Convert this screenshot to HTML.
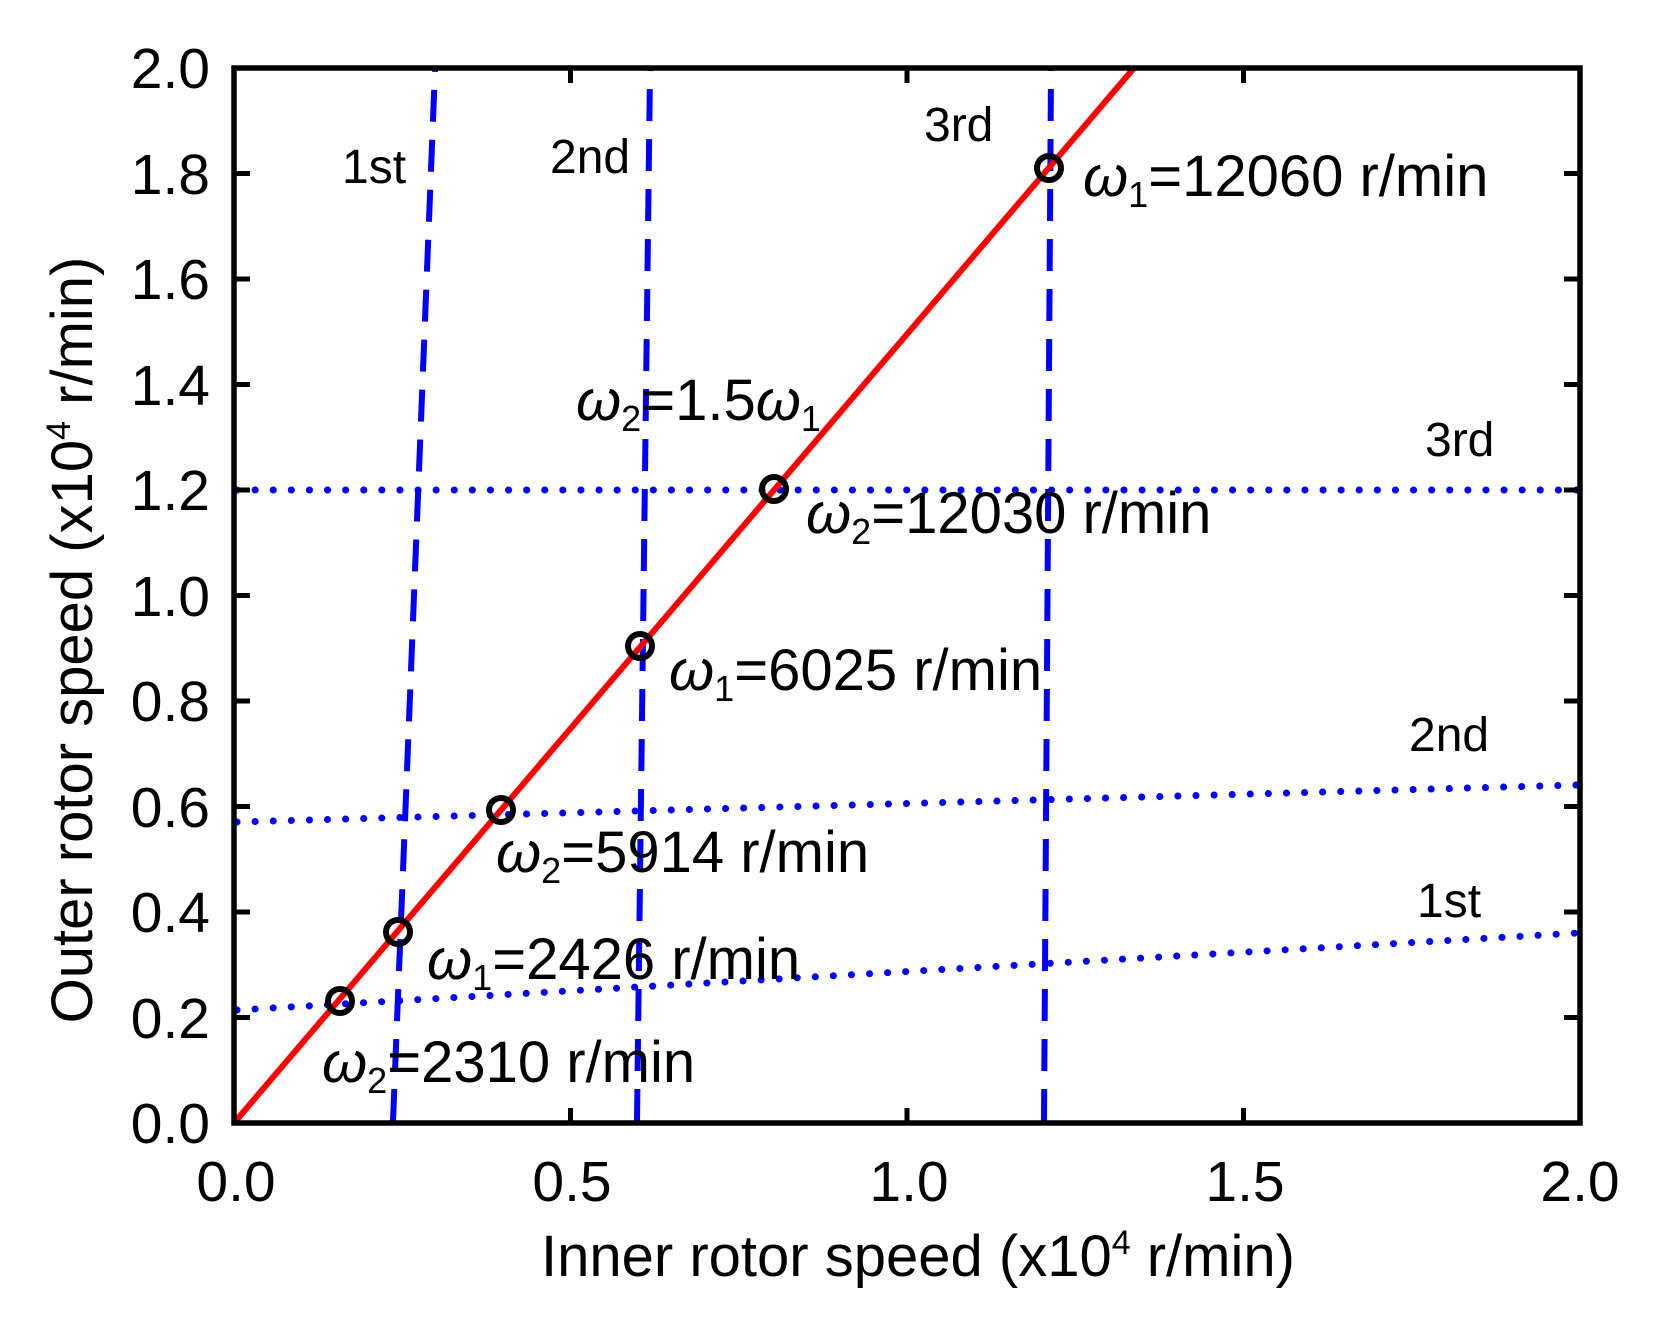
<!DOCTYPE html>
<html><head><meta charset="utf-8"><style>html,body{margin:0;padding:0;background:#fff}svg{display:block}</style></head>
<body>
<svg width="1665" height="1320" viewBox="0 0 1665 1320" xmlns="http://www.w3.org/2000/svg" font-family="Liberation Sans, Arial, sans-serif">
<rect width="1665" height="1320" fill="#fff"/>
<g stroke="#0000ff" stroke-width="7" stroke-linecap="round" stroke-dasharray="0.1 18" fill="none">
<line x1="237" y1="490" x2="1578" y2="490"/>
<line x1="237" y1="822" x2="1578" y2="785"/>
<line x1="237" y1="1010" x2="1578" y2="933"/>
</g>
<g stroke="#0000ff" stroke-width="6" stroke-dasharray="32 18" fill="none">
<line x1="393" y1="1121" x2="435" y2="70"/>
<line x1="637" y1="1121" x2="650" y2="70"/>
<line x1="1044" y1="1121" x2="1051" y2="70"/>
</g>
<line x1="234" y1="1123" x2="1134" y2="68" stroke="#ff0000" stroke-width="6"/>
<g stroke="#000" stroke-width="6" fill="none">
<circle cx="340" cy="1001" r="12"/>
<circle cx="398" cy="932" r="12"/>
<circle cx="501" cy="810" r="12"/>
<circle cx="640" cy="646" r="12"/>
<circle cx="774" cy="489" r="12"/>
<circle cx="1049" cy="168" r="12"/>
</g>
<rect x="234" y="68" width="1346" height="1055" fill="none" stroke="#000" stroke-width="5.5"/>
<g stroke="#000" stroke-width="5">
<line x1="570.5" y1="1123" x2="570.5" y2="1108"/><line x1="907" y1="1123" x2="907" y2="1108"/><line x1="1243.5" y1="1123" x2="1243.5" y2="1108"/>
<line x1="570.5" y1="68" x2="570.5" y2="83"/><line x1="907" y1="68" x2="907" y2="83"/><line x1="1243.5" y1="68" x2="1243.5" y2="83"/>
<line x1="234" y1="1017.5" x2="250" y2="1017.5"/><line x1="234" y1="912" x2="250" y2="912"/><line x1="234" y1="806.5" x2="250" y2="806.5"/><line x1="234" y1="701" x2="250" y2="701"/><line x1="234" y1="595.5" x2="250" y2="595.5"/><line x1="234" y1="490" x2="250" y2="490"/><line x1="234" y1="384.5" x2="250" y2="384.5"/><line x1="234" y1="279" x2="250" y2="279"/><line x1="234" y1="173.5" x2="250" y2="173.5"/>
<line x1="1580" y1="1017.5" x2="1564" y2="1017.5"/><line x1="1580" y1="912" x2="1564" y2="912"/><line x1="1580" y1="806.5" x2="1564" y2="806.5"/><line x1="1580" y1="701" x2="1564" y2="701"/><line x1="1580" y1="595.5" x2="1564" y2="595.5"/><line x1="1580" y1="490" x2="1564" y2="490"/><line x1="1580" y1="384.5" x2="1564" y2="384.5"/><line x1="1580" y1="279" x2="1564" y2="279"/><line x1="1580" y1="173.5" x2="1564" y2="173.5"/>
</g>
<g font-size="57" fill="#000" text-anchor="end">
<text x="210" y="1143">0.0</text><text x="210" y="1038">0.2</text><text x="210" y="932">0.4</text><text x="210" y="827">0.6</text><text x="210" y="721">0.8</text><text x="210" y="616">1.0</text><text x="210" y="510">1.2</text><text x="210" y="405">1.4</text><text x="210" y="299">1.6</text><text x="210" y="194">1.8</text><text x="210" y="88">2.0</text>
</g>
<g font-size="57" fill="#000" text-anchor="middle">
<text x="236" y="1201">0.0</text><text x="572" y="1201">0.5</text><text x="909" y="1201">1.0</text><text x="1245" y="1201">1.5</text><text x="1580" y="1201">2.0</text>
</g>
<text x="918" y="1276" font-size="58" text-anchor="middle">Inner rotor speed (x10<tspan font-size="34" dy="-22">4</tspan><tspan dy="22"> r/min)</tspan></text>
<text transform="translate(92,640) rotate(-90)" font-size="58" text-anchor="middle">Outer rotor speed (x10<tspan font-size="34" dy="-22">4</tspan><tspan dy="22"> r/min)</tspan></text>
<g font-size="48" fill="#000">
<text x="342" y="183">1st</text><text x="550" y="173">2nd</text><text x="924" y="141">3rd</text>
<text x="1425" y="456">3rd</text><text x="1409" y="751">2nd</text><text x="1417" y="917">1st</text>
</g>
<g font-size="58" fill="#000">
<text x="1083" y="196"><tspan font-style="italic">ω</tspan><tspan font-size="36" dy="11">1</tspan><tspan dy="-11">=12060 r/min</tspan></text>
<text x="576" y="420"><tspan font-style="italic">ω</tspan><tspan font-size="36" dy="11">2</tspan><tspan dy="-11">=1.5</tspan><tspan font-style="italic">ω</tspan><tspan font-size="36" dy="11">1</tspan></text>
<text x="806" y="533"><tspan font-style="italic">ω</tspan><tspan font-size="36" dy="11">2</tspan><tspan dy="-11">=12030 r/min</tspan></text>
<text x="669" y="690"><tspan font-style="italic">ω</tspan><tspan font-size="36" dy="11">1</tspan><tspan dy="-11">=6025 r/min</tspan></text>
<text x="496" y="872"><tspan font-style="italic">ω</tspan><tspan font-size="36" dy="11">2</tspan><tspan dy="-11">=5914 r/min</tspan></text>
<text x="427" y="979"><tspan font-style="italic">ω</tspan><tspan font-size="36" dy="11">1</tspan><tspan dy="-11">=2426 r/min</tspan></text>
<text x="322" y="1082"><tspan font-style="italic">ω</tspan><tspan font-size="36" dy="11">2</tspan><tspan dy="-11">=2310 r/min</tspan></text>
</g>
</svg>
</body></html>
